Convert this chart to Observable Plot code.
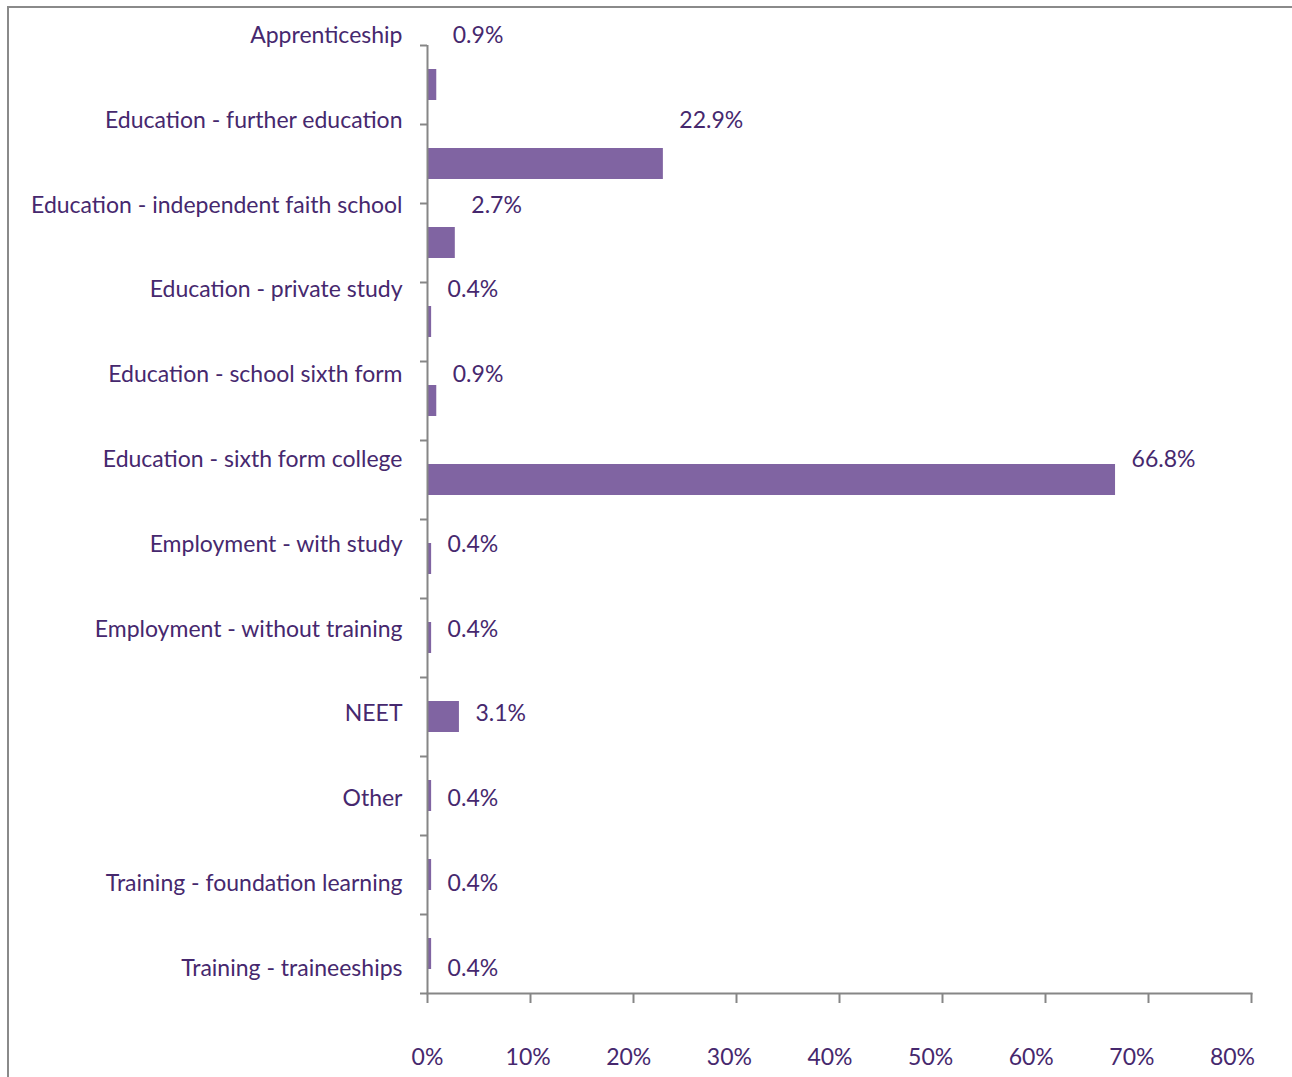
<!DOCTYPE html>
<html>
<head>
<meta charset="utf-8">
<script src="https://cdn.jsdelivr.net/npm/d3@7"></script>
<script src="https://cdn.jsdelivr.net/npm/@observablehq/plot@0.6"></script>
<style>
  html, body { margin: 0; padding: 0; background: #fff; }
  #wrap { position: relative; width: 1292px; height: 1077px; overflow: hidden; }
  #frame { position: absolute; left: 7px; top: 6px; width: 1400px; height: 1200px;
           border-left: 2px solid #8a8a8a; border-top: 2px solid #8a8a8a; }
  #wrap svg { position: absolute; left: 0; top: 0; }
</style>
</head>
<body>
<div id="wrap"><div id="frame"></div></div>
<script>
const categories = [
  "Apprenticeship",
  "Education - further education",
  "Education - independent faith school",
  "Education - private study",
  "Education - school sixth form",
  "Education - sixth form college",
  "Employment - with study",
  "Employment - without training",
  "NEET",
  "Other",
  "Training - foundation learning",
  "Training - traineeships"
];
const values = [0.9, 22.9, 2.7, 0.4, 0.9, 66.8, 0.4, 0.4, 3.1, 0.4, 0.4, 0.4];
const xTicks = [0, 10, 20, 30, 40, 50, 60, 70, 80];

const data = categories.map((c, i) => ({category: c, value: values[i]}));

const W = 1292, H = 1077;
const mLeft = 427, mRight = 41, mTop = 45, mBottom = 84;
const step = (H - mTop - mBottom) / categories.length;
const textColor = "#46286e";
const axisColor = "#868686";
const barColor = "#8064a2";
const font = "Lato, 'Open Sans', sans-serif";
const fontSize = "23px";

const bars = Plot.plot({
  width: W, height: H,
  marginLeft: mLeft, marginRight: mRight, marginTop: mTop, marginBottom: mBottom,
  style: {fontFamily: font, fontSize, color: textColor, background: "transparent"},
  x: {domain: [0, 80]},
  y: {domain: categories, padding: 0, round: false},
  marks: [
    Plot.barX(data, {x: "value", y: "category", fill: barColor, insetTop: 24, insetBottom: 24}),
    Plot.ruleX([0], {stroke: axisColor, strokeWidth: 2}),
    Plot.frame({anchor: "bottom", stroke: axisColor, strokeWidth: 2}),
    Plot.axisX({ticks: xTicks, tickSize: 10, stroke: axisColor, strokeWidth: 2,
                tickFormat: () => "", label: null}),
    Plot.axisY({tickSize: 7, tickFormat: () => "", label: null, dy: -step / 2,
                stroke: axisColor, strokeWidth: 2}),
    Plot.axisY({ticks: [categories[categories.length - 1]], tickSize: 7, tickFormat: () => "",
                label: null, dy: step / 2, stroke: axisColor, strokeWidth: 2})
  ]
});

const labels = Plot.plot({
  width: W, height: H,
  marginLeft: mLeft, marginRight: mRight, marginTop: mTop, marginBottom: mBottom,
  style: {fontFamily: font, fontSize, color: textColor, background: "transparent"},
  x: {domain: [0, 80], axis: null},
  y: {type: "point", domain: categories, range: [35, 968], padding: 0, round: false},
  marks: [
    Plot.axisY({tickSize: 0, tickPadding: 25, label: null, fill: textColor}),
    Plot.text(data, {x: "value", y: "category", text: d => d.value.toFixed(1) + "%",
                     dx: 16, textAnchor: "start", fill: textColor})
  ]
});

const tickLabels = Plot.plot({
  width: W, height: H,
  marginLeft: mLeft, marginRight: 60, marginTop: mTop, marginBottom: mBottom,
  style: {fontFamily: font, fontSize, color: textColor, background: "transparent"},
  x: {domain: [0, 80]},
  marks: [
    Plot.axisX({ticks: xTicks, tickSize: 0, tickPadding: 55, tickFormat: d => d + "%",
                label: null, fill: textColor})
  ]
});

document.getElementById("wrap").append(bars, labels, tickLabels);
</script>
</body>
</html>
